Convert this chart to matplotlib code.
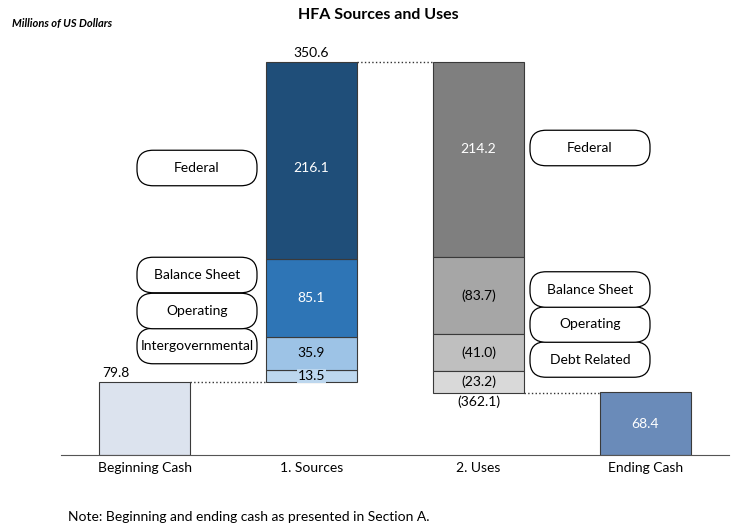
import numpy as np
import matplotlib.pyplot as plt
from matplotlib.patches import FancyBboxPatch

plt.rcParams['font.family'] = ['Lato', 'DejaVu Sans']

# Data (millions of US dollars)
categories = ["Beginning Cash", "1. Sources", "2. Uses", "Ending Cash"]
beginning_cash = 79.8
source_names = ["Intergovernmental", "Operating", "Balance Sheet", "Federal"]
source_values = [13.5, 35.9, 85.1, 216.1]
use_names = ["Debt Related", "Operating", "Balance Sheet", "Federal"]
use_values = [23.2, 41.0, 83.7, 214.2]
ending_cash = 68.4

source_colors = ['#BDD7EE', '#9DC3E6', '#2E75B6', '#1F4E79']
source_text = ['black', 'black', 'white', 'white']
use_colors = ['#D9D9D9', '#BFBFBF', '#A6A6A6', '#7F7F7F']
use_text = ['black', 'black', 'black', 'white']
# small vertical nudges for the segment labels (data units)
source_nudge = [0, 0, 0, -8]
use_nudge = [0, 0, 0, 12]

W, H = 731, 527
FS = 10
fig = plt.figure(figsize=(W / 100, H / 100), dpi=100)
ax = fig.add_axes([61 / W, (H - 455) / H, 668 / W, 415 / H])
ax.set_xlim(-0.5, 3.5)
ax.set_ylim(0, 454)

bw = 0.55
edge = dict(edgecolor='#3a3a3a', linewidth=0.8)

# beginning cash
ax.bar(0, beginning_cash, width=bw, color='#DCE3EE', **edge, zorder=2)
ax.text(0 - 0.17, beginning_cash + 3, f"{beginning_cash:.1f}", ha='center', va='bottom', fontsize=FS)

# sources stacked on top of beginning cash
bottom = beginning_cash
for v, c, tc, dy in zip(source_values, source_colors, source_text, source_nudge):
    ax.bar(1, v, bottom=bottom, width=bw, color=c, **edge, zorder=2)
    bb = dict(facecolor=c, edgecolor='none', pad=0.5) if v < 20 else None
    ax.text(1, bottom + v / 2 + dy, f"{v:.1f}", ha='center', va='center', color=tc,
            fontsize=FS, bbox=bb, zorder=3)
    bottom += v
sources_top = bottom
ax.text(1, sources_top + 3, f"{sum(source_values):.1f}", ha='center', va='bottom', fontsize=FS)

# uses hanging down from the sources total
top = sources_top
for i in reversed(range(len(use_values))):
    v = use_values[i]
    ax.bar(2, v, bottom=top - v, width=bw, color=use_colors[i], **edge, zorder=2)
    txt = f"{v:.1f}" if use_names[i] == "Federal" else f"({v:.1f})"
    ax.text(2, top - v / 2 + use_nudge[i], txt, ha='center', va='center',
            color=use_text[i], fontsize=FS, zorder=3)
    top -= v
uses_bottom = top
ax.text(2, uses_bottom - 3, f"({sum(use_values):.1f})", ha='center', va='top', fontsize=FS)

# ending cash
ax.bar(3, ending_cash, width=bw, color='#6A8BB9', **edge, zorder=2)
ax.text(3, ending_cash / 2, f"{ending_cash:.1f}", ha='center', va='center', color='white', fontsize=FS)

# dotted connectors
h = bw / 2
ax.plot([0 + h, 1 - h], [beginning_cash] * 2, ls=':', color='#333333', lw=1)
ax.plot([1 + h, 2 - h], [sources_top] * 2, ls=':', color='#333333', lw=1)
ax.plot([2 + h, 3 - h], [uses_bottom] * 2, ls=':', color='#333333', lw=1)

for s in ['top', 'right', 'left']:
    ax.spines[s].set_visible(False)
ax.spines['bottom'].set_color('#555555')
ax.set_yticks([])
ax.set_xticks(range(len(categories)))
ax.set_xticklabels(categories, fontsize=FS)
ax.tick_params(axis='x', length=0, pad=5)

# rounded name tags beside the bars (pixel positions, y from top)
def tag(cx, cy, name):
    w, hh = 1.20, 0.355
    x0 = cx / 100 - w / 2
    y0 = (H - cy) / 100 - hh / 2
    p = FancyBboxPatch((x0, y0), w, hh, boxstyle='round,pad=0,rounding_size=0.16',
                       transform=fig.dpi_scale_trans, facecolor='white',
                       edgecolor='black', linewidth=0.9)
    fig.patches.append(p)
    fig.text(cx / W, 1 - cy / H, name, ha='center', va='center', fontsize=FS)

src_tag_y = [346, 311, 275, 168]
use_tag_y = [359.5, 324.5, 289.5, 148]
for name, y in zip(source_names, src_tag_y):
    tag(197, y, name)
for name, y in zip(use_names, use_tag_y):
    tag(590, y, name)

fig.text(378 / W, 1 - 15 / H, "HFA Sources and Uses", ha='center', va='center',
         fontsize=11.5, fontweight='bold')
fig.text(12 / W, 1 - 23 / H, "Millions of US Dollars", ha='left', va='center',
         fontsize=8, fontweight='bold', fontstyle='italic')
fig.text(68 / W, 1 - 517 / H, "Note: Beginning and ending cash as presented in Section A.",
         ha='left', va='center', fontsize=10)

fig.savefig('out.png', dpi=100)
